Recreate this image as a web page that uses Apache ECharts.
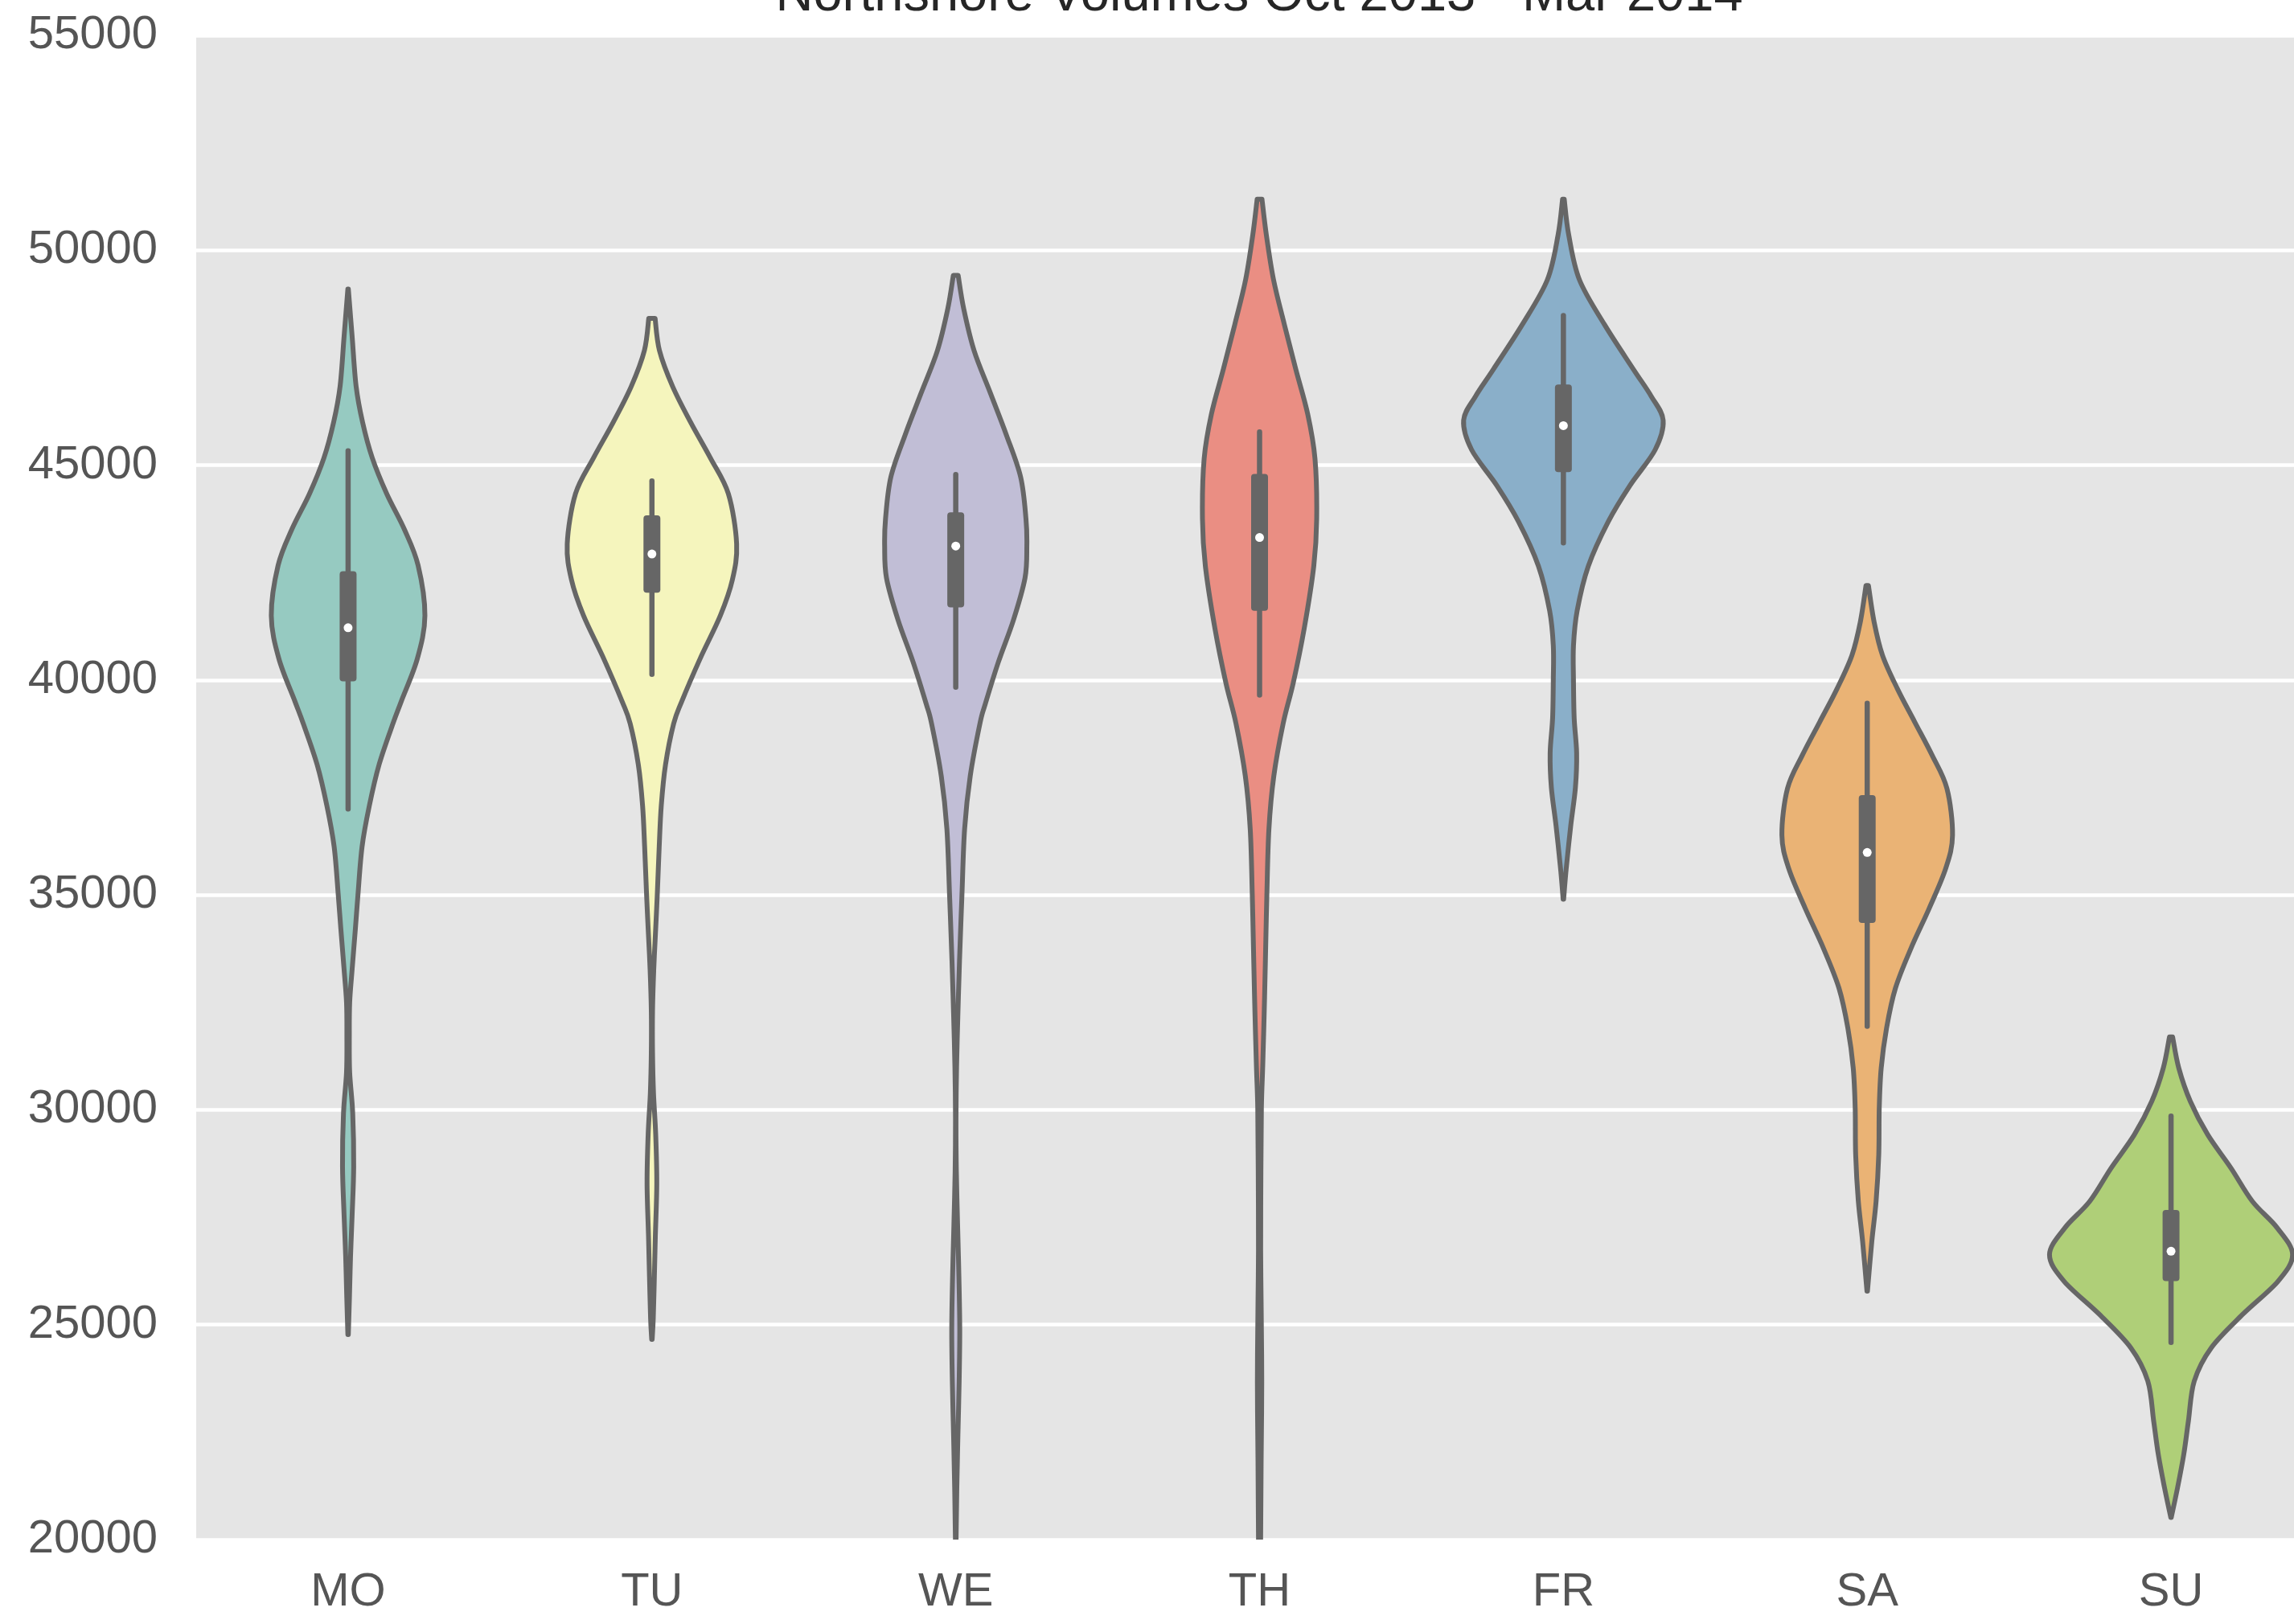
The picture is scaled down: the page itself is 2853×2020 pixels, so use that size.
<!DOCTYPE html>
<html>
<head>
<meta charset="utf-8">
<script src="https://cdn.jsdelivr.net/npm/echarts@6/dist/echarts.min.js"></script>
<style>
html,body{margin:0;padding:0;background:#fff;}
#chart{width:2853px;height:2020px;}
</style>
</head>
<body>
<div id="chart"></div>
<script>
const TITLE = 'Northshore Volumes Oct 2013 - Mar 2014';
const days = ['MO', 'TU', 'WE', 'TH', 'FR', 'SA', 'SU'];
const yTicks = { min: 20000, max: 55000, step: 5000 };

// Violin outlines: values (top to bottom) and relative density (1 = widest violin)
const moValues  = [49100, 48000, 46833, 46000, 45167, 44333, 43500, 42667, 41500, 40500, 39500, 38987, 38033, 37079, 36125, 35000, 34217, 33262, 32500, 31730, 30870, 29915, 28680, 27540, 26585, 25630, 24770];
const moDensity = [0.002, 0.033, 0.066, 0.119, 0.199, 0.318, 0.464, 0.576, 0.632, 0.570, 0.437, 0.369, 0.255, 0.175, 0.115, 0.081, 0.060, 0.033, 0.013, 0.010, 0.013, 0.038, 0.046, 0.033, 0.020, 0.011, 0.002];

const tuValues  = [48417, 47667, 46833, 46000, 45167, 44333, 43167, 42333, 41500, 40500, 39500, 38987, 38033, 37079, 36125, 35000, 34217, 33262, 32300, 31340, 30390, 29430, 28290, 27050, 26100, 25140, 24660];
const tuDensity = [0.026, 0.062, 0.170, 0.318, 0.481, 0.629, 0.697, 0.662, 0.563, 0.397, 0.245, 0.179, 0.112, 0.077, 0.060, 0.044, 0.031, 0.015, 0.005, 0.005, 0.013, 0.031, 0.040, 0.028, 0.020, 0.011, 0.002];

const weValues  = [49414, 48632, 47654, 46677, 45700, 44722, 43744, 43118, 42375, 41398, 40420, 39443, 38987, 37762, 36536, 35000, 33470, 32250, 31020, 29800, 28570, 27350, 26120, 24890, 23670, 22440, 21220, 20050, 19000];
const weDensity = [0.020, 0.066, 0.152, 0.285, 0.417, 0.534, 0.578, 0.585, 0.570, 0.475, 0.351, 0.243, 0.199, 0.119, 0.073, 0.051, 0.031, 0.018, 0.007, 0.002, 0.005, 0.015, 0.026, 0.033, 0.028, 0.018, 0.009, 0.003, 0.001];

const thValues  = [51187, 50354, 49313, 48272, 47231, 46190, 45149, 43754, 42651, 41194, 39945, 38987, 37762, 36536, 35000, 33470, 32250, 31020, 30040, 28570, 26730, 25500, 23670, 21830, 20050, 18500];
const thDensity = [0.020, 0.056, 0.115, 0.204, 0.298, 0.396, 0.456, 0.470, 0.446, 0.367, 0.278, 0.194, 0.117, 0.077, 0.060, 0.048, 0.038, 0.026, 0.015, 0.011, 0.009, 0.013, 0.018, 0.013, 0.009, 0.001];

const frValues  = [51187, 50354, 49313, 48272, 47231, 46607, 46044, 45357, 44524, 43691, 42651, 41610, 40800, 40000, 39100, 38300, 37500, 36600, 35600, 34900];
const frDensity = [0.007, 0.044, 0.132, 0.338, 0.576, 0.722, 0.821, 0.755, 0.547, 0.370, 0.205, 0.113, 0.083, 0.083, 0.089, 0.109, 0.099, 0.060, 0.023, 0.002];

const saValues  = [42200, 41348, 40573, 39799, 39024, 38250, 37475, 36391, 35616, 34687, 33757, 32828, 31899, 30969, 30040, 28956, 27871, 26942, 25780];
const saDensity = [0.010, 0.057, 0.126, 0.248, 0.391, 0.534, 0.656, 0.702, 0.646, 0.510, 0.360, 0.232, 0.159, 0.115, 0.099, 0.095, 0.073, 0.038, 0.002];

const suValues  = [31697, 30969, 30195, 29420, 28646, 27871, 27252, 26632, 26012, 25238, 24463, 23689, 22760, 21985, 21211, 20514];
const suDensity = [0.013, 0.064, 0.159, 0.302, 0.493, 0.669, 0.874, 1.000, 0.881, 0.589, 0.331, 0.191, 0.143, 0.105, 0.054, 0.002];

// Inner box plot statistics
const whiskerHigh = [45333, 44633, 44780, 45774, 48480, 39458, 29854];
const q3          = [42533, 43833, 43900, 44795, 46877, 37320, 27670];
const medians     = [41217, 42933, 43118, 43317, 45919, 35988, 26710];
const q1          = [39967, 42033, 41690, 41610, 44837, 34346, 26012];
const whiskerLow  = [37000, 40133, 39834, 39653, 43192, 31945, 24587];

const colors = ['#96cac1', '#f5f5bd', '#c1bed6', '#ea8e83', '#8aafc9', '#eab375', '#afcf78'];

const profileValues  = [moValues, tuValues, weValues, thValues, frValues, saValues, suValues];
const profileDensity = [moDensity, tuDensity, weDensity, thDensity, frDensity, saDensity, suDensity];

const FONT = "'Liberation Sans', Arial, Helvetica, sans-serif";
const EDGE = '#666666';

// smooth curve (Catmull-Rom as cubic Bezier) through one side of the outline
function sideSegments(pts) {
  let s = '';
  const n = pts.length;
  for (let k = 0; k < n - 1; k++) {
    const p0 = pts[Math.max(k - 1, 0)], p1 = pts[k], p2 = pts[k + 1], p3 = pts[Math.min(k + 2, n - 1)];
    const c1x = p1[0] + (p2[0] - p0[0]) / 6, c1y = p1[1] + (p2[1] - p0[1]) / 6;
    const c2x = p2[0] - (p3[0] - p1[0]) / 6, c2y = p2[1] - (p3[1] - p1[1]) / 6;
    s += ' C' + c1x.toFixed(2) + ' ' + c1y.toFixed(2) + ' ' + c2x.toFixed(2) + ' ' + c2y.toFixed(2) + ' ' + p2[0].toFixed(2) + ' ' + p2[1].toFixed(2);
  }
  return s;
}

function renderItem(params, api) {
  const i = api.value(0);
  const cx = api.coord([i, medians[i]])[0];
  const band = api.size([1, 0])[0];
  const maxHalf = 0.4 * band;
  const vals = profileValues[i], dens = profileDensity[i];
  const left = [], right = [];
  for (let k = 0; k < vals.length; k++) {
    const y = api.coord([i, vals[k]])[1];
    const hw = dens[k] * maxHalf;
    left.push([cx - hw, y]);
    right.push([cx + hw, y]);
  }
  const rightUp = right.slice().reverse();
  let d = 'M' + left[0][0].toFixed(2) + ' ' + left[0][1].toFixed(2);
  d += sideSegments(left);
  d += ' L' + rightUp[0][0].toFixed(2) + ' ' + rightUp[0][1].toFixed(2);
  d += sideSegments(rightUp);
  d += ' Z';
  const yWh = api.coord([i, whiskerHigh[i]])[1];
  const yWl = api.coord([i, whiskerLow[i]])[1];
  const yQ3 = api.coord([i, q3[i]])[1];
  const yQ1 = api.coord([i, q1[i]])[1];
  const yMed = api.coord([i, medians[i]])[1];
  return {
    type: 'group',
    children: [
      { type: 'path', shape: { pathData: d },
        style: { fill: colors[i], stroke: EDGE, lineWidth: 6, lineJoin: 'round', lineCap: 'round' } },
      { type: 'line', shape: { x1: cx, y1: yWh, x2: cx, y2: yWl },
        style: { stroke: EDGE, lineWidth: 6.5, lineCap: 'round' } },
      { type: 'rect', shape: { x: cx - 10.5, y: yQ3, width: 21, height: yQ1 - yQ3, r: 4 },
        style: { fill: EDGE } },
      { type: 'circle', shape: { cx: cx, cy: yMed, r: 5.5 },
        style: { fill: '#ffffff' } }
    ]
  };
}

const chart = echarts.init(document.getElementById('chart'), null, { renderer: 'canvas' });
chart.setOption({
  backgroundColor: '#ffffff',
  animation: false,
  graphic: [{
    type: 'text', x: 1566, y: -5, z: 100,
    style: { text: TITLE, fontSize: 65, fontFamily: FONT, fill: '#262626',
             align: 'center', verticalAlign: 'middle', textAlign: 'center', textVerticalAlign: 'middle' }
  }],
  grid: { left: 244, top: 44, width: 2645, height: 1871, show: true,
          outerBoundsMode: 'none', containLabel: false,
          backgroundColor: '#E5E5E5', borderWidth: 0 },
  xAxis: {
    type: 'category', data: days, boundaryGap: true,
    axisLine: { show: false }, axisTick: { show: false }, splitLine: { show: false },
    axisLabel: { fontSize: 58, color: '#555555', margin: 37, fontFamily: FONT }
  },
  yAxis: {
    type: 'value', min: yTicks.min, max: yTicks.max, interval: yTicks.step,
    axisLine: { show: false }, axisTick: { show: false },
    axisLabel: { fontSize: 58, color: '#555555', margin: 48, fontFamily: FONT,
                 formatter: function (v) { return String(v); } },
    splitLine: { show: true, lineStyle: { color: '#ffffff', width: 4.5 } }
  },
  series: [{
    type: 'custom', clip: true, renderItem: renderItem,
    encode: { x: 0, y: 1 },
    data: days.map((d, i) => [i, medians[i]])
  }]
});
</script>
</body>
</html>
